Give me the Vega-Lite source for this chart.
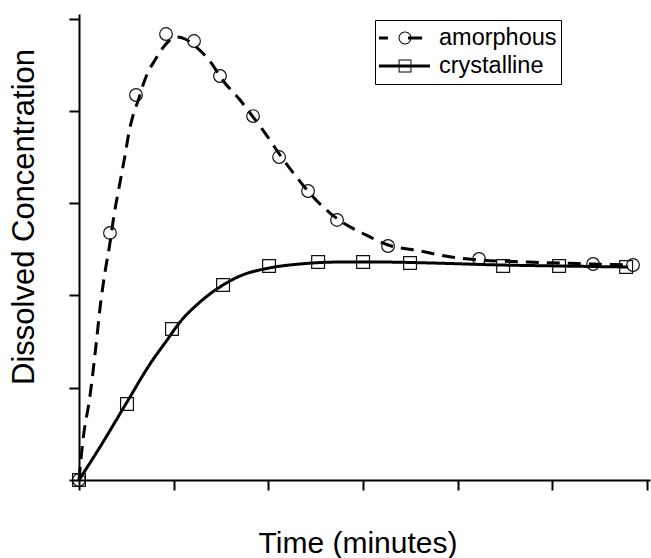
{
  "$schema": "https://vega.github.io/schema/vega-lite/v6.json",
  "width": 571,
  "height": 466,
  "autosize": {"type": "none"},
  "padding": {"left": 79, "top": 14, "right": 1, "bottom": 78},
  "background": "white",
  "config": {
    "view": {"stroke": null},
    "font": "Liberation Sans",
    "axis": {
      "labels": false,
      "grid": false,
      "tickSize": 10,
      "tickWidth": 2,
      "domainWidth": 2,
      "domainColor": "black",
      "tickColor": "black",
      "titleColor": "black",
      "titleFontWeight": "normal",
      "titleFont": "Liberation Sans"
    }
  },
  "datasets": {
    "markers": [
      {"series": "amorphous", "time": 0, "conc": 0},
      {"series": "amorphous", "time": 0.327, "conc": 2.677},
      {"series": "amorphous", "time": 0.602, "conc": 4.172},
      {"series": "amorphous", "time": 0.919, "conc": 4.833},
      {"series": "amorphous", "time": 1.215, "conc": 4.757},
      {"series": "amorphous", "time": 1.489, "conc": 4.378},
      {"series": "amorphous", "time": 1.838, "conc": 3.944},
      {"series": "amorphous", "time": 2.113, "conc": 3.5},
      {"series": "amorphous", "time": 2.419, "conc": 3.132},
      {"series": "amorphous", "time": 2.725, "conc": 2.818},
      {"series": "amorphous", "time": 3.264, "conc": 2.536},
      {"series": "amorphous", "time": 4.225, "conc": 2.395},
      {"series": "amorphous", "time": 5.429, "conc": 2.341},
      {"series": "amorphous", "time": 5.851, "conc": 2.33},
      {"series": "crystalline", "time": 0, "conc": 0},
      {"series": "crystalline", "time": 0.507, "conc": 0.824},
      {"series": "crystalline", "time": 0.982, "conc": 1.636},
      {"series": "crystalline", "time": 1.521, "conc": 2.113},
      {"series": "crystalline", "time": 2.007, "conc": 2.319},
      {"series": "crystalline", "time": 2.525, "conc": 2.362},
      {"series": "crystalline", "time": 3.0, "conc": 2.362},
      {"series": "crystalline", "time": 3.496, "conc": 2.352},
      {"series": "crystalline", "time": 4.479, "conc": 2.319},
      {"series": "crystalline", "time": 5.07, "conc": 2.319},
      {"series": "crystalline", "time": 5.778, "conc": 2.308}
    ],
    "fits": [
      {"series": "amorphous", "time": 0, "conc": 0},
      {"series": "amorphous", "time": 0.042, "conc": 0.433},
      {"series": "amorphous", "time": 0.116, "conc": 0.91},
      {"series": "amorphous", "time": 0.18, "conc": 1.463},
      {"series": "amorphous", "time": 0.232, "conc": 1.951},
      {"series": "amorphous", "time": 0.275, "conc": 2.254},
      {"series": "amorphous", "time": 0.327, "conc": 2.568},
      {"series": "amorphous", "time": 0.37, "conc": 2.872},
      {"series": "amorphous", "time": 0.428, "conc": 3.197},
      {"series": "amorphous", "time": 0.481, "conc": 3.489},
      {"series": "amorphous", "time": 0.533, "conc": 3.793},
      {"series": "amorphous", "time": 0.581, "conc": 3.988},
      {"series": "amorphous", "time": 0.623, "conc": 4.107},
      {"series": "amorphous", "time": 0.676, "conc": 4.28},
      {"series": "amorphous", "time": 0.724, "conc": 4.41},
      {"series": "amorphous", "time": 0.803, "conc": 4.551},
      {"series": "amorphous", "time": 0.877, "conc": 4.671},
      {"series": "amorphous", "time": 0.961, "conc": 4.768},
      {"series": "amorphous", "time": 1.035, "conc": 4.801},
      {"series": "amorphous", "time": 1.12, "conc": 4.779},
      {"series": "amorphous", "time": 1.225, "conc": 4.703},
      {"series": "amorphous", "time": 1.373, "conc": 4.551},
      {"series": "amorphous", "time": 1.532, "conc": 4.313},
      {"series": "amorphous", "time": 1.701, "conc": 4.118},
      {"series": "amorphous", "time": 1.806, "conc": 3.977},
      {"series": "amorphous", "time": 1.965, "conc": 3.76},
      {"series": "amorphous", "time": 2.123, "conc": 3.522},
      {"series": "amorphous", "time": 2.281, "conc": 3.305},
      {"series": "amorphous", "time": 2.493, "conc": 3.045},
      {"series": "amorphous", "time": 2.651, "conc": 2.893},
      {"series": "amorphous", "time": 2.81, "conc": 2.774},
      {"series": "amorphous", "time": 2.989, "conc": 2.677},
      {"series": "amorphous", "time": 3.264, "conc": 2.547},
      {"series": "amorphous", "time": 3.602, "conc": 2.482},
      {"series": "amorphous", "time": 3.929, "conc": 2.417},
      {"series": "amorphous", "time": 4.236, "conc": 2.384},
      {"series": "amorphous", "time": 4.743, "conc": 2.362},
      {"series": "amorphous", "time": 5.419, "conc": 2.341},
      {"series": "amorphous", "time": 5.799, "conc": 2.33},
      {"series": "crystalline", "time": 0, "conc": 0},
      {"series": "crystalline", "time": 0.222, "conc": 0.358},
      {"series": "crystalline", "time": 0.507, "conc": 0.845},
      {"series": "crystalline", "time": 0.75, "conc": 1.257},
      {"series": "crystalline", "time": 0.93, "conc": 1.517},
      {"series": "crystalline", "time": 1.067, "conc": 1.712},
      {"series": "crystalline", "time": 1.278, "conc": 1.929},
      {"series": "crystalline", "time": 1.521, "conc": 2.113},
      {"series": "crystalline", "time": 1.701, "conc": 2.211},
      {"series": "crystalline", "time": 2.007, "conc": 2.297},
      {"series": "crystalline", "time": 2.334, "conc": 2.341},
      {"series": "crystalline", "time": 2.757, "conc": 2.362},
      {"series": "crystalline", "time": 3.179, "conc": 2.362},
      {"series": "crystalline", "time": 3.707, "conc": 2.352},
      {"series": "crystalline", "time": 4.447, "conc": 2.33},
      {"series": "crystalline", "time": 5.081, "conc": 2.319},
      {"series": "crystalline", "time": 5.799, "conc": 2.308}
    ]
  },
  "encoding": {
    "x": {
      "field": "time",
      "type": "quantitative",
      "scale": {"domain": [0, 6.03], "nice": false, "zero": false},
      "axis": {
        "title": "Time (minutes)",
        "values": [0, 1, 2, 3, 4, 5, 6],
        "titleFontSize": 30,
        "titleX": 278.5,
        "titleY": 72,
        "titleBaseline": "alphabetic",
        "titleAlign": "center"
      }
    },
    "y": {
      "field": "conc",
      "type": "quantitative",
      "scale": {"domain": [0, 5.05], "nice": false, "zero": false},
      "axis": {
        "title": "Dissolved Concentration",
        "values": [0, 1, 2, 3, 4, 5],
        "titleFontSize": 31,
        "titleX": -46,
        "titleY": 202.5,
        "titleAngle": -90,
        "titleBaseline": "alphabetic",
        "titleAlign": "center"
      }
    }
  },
  "layer": [
    {
      "data": {"name": "fits"},
      "mark": {"type": "line", "interpolate": "monotone", "strokeWidth": 3, "color": "black"},
      "encoding": {
        "detail": {"field": "series"},
        "strokeDash": {
          "field": "series",
          "type": "nominal",
          "scale": {"domain": ["amorphous", "crystalline"], "range": [[13, 8], [1, 0]]},
          "legend": null
        }
      }
    },
    {
      "data": {"name": "markers"},
      "mark": {"type": "point", "filled": false, "stroke": "#111111", "strokeWidth": 1.2, "opacity": 1},
      "encoding": {
        "shape": {
          "field": "series",
          "type": "nominal",
          "scale": {"domain": ["amorphous", "crystalline"], "range": ["circle", "square"]},
          "legend": null
        },
        "size": {
          "field": "series",
          "type": "nominal",
          "scale": {"domain": ["amorphous", "crystalline"], "range": [160, 165]},
          "legend": null
        }
      }
    },
    {
      "data": {"name": "markers"},
      "mark": {"type": "point", "filled": true, "color": "black", "opacity": 0},
      "encoding": {
        "shape": {
          "field": "series",
          "type": "nominal",
          "scale": {
            "domain": ["amorphous", "crystalline"],
            "range": [
              "M-1.14,-0.054H-0.68V0.054H-1.14Z M0.036,-0.054H0.54V0.054H0.036Z M0.16,0A0.23,0.23 0 1,1 -0.3,0A0.23,0.23 0 1,1 0.16,0Z M0.125,0A0.195,0.195 0 1,0 -0.265,0A0.195,0.195 0 1,0 0.125,0Z",
              "M-1.14,-0.054H0.82V0.054H-1.14Z M-0.3,-0.23H0.16V0.23H-0.3Z M-0.265,-0.195V0.195H0.125V-0.195Z"
            ]
          },
          "legend": {
            "title": null,
            "orient": "none",
            "legendX": 296,
            "legendY": 6,
            "padding": 4,
            "labelFontSize": 23.5,
            "labelFont": "Liberation Sans",
            "labelColor": "black",
            "labelOffset": 4,
            "symbolSize": 3136,
            "clipHeight": 28,
            "symbolFillColor": "black",
            "symbolStrokeColor": "black",
            "symbolStrokeWidth": 0,
            "symbolOpacity": 1,
            "strokeColor": "black",
            "fillColor": "white",
            "rowPadding": 0
          }
        }
      }
    }
  ],
  "resolve": {"scale": {"shape": "independent"}, "legend": {"shape": "independent"}}
}
